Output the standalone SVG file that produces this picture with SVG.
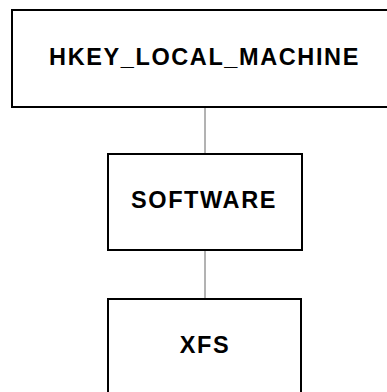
<svg xmlns="http://www.w3.org/2000/svg" width="387" height="392" viewBox="0 0 387 392">
<style>
.box{fill:#fff;stroke:#000;stroke-width:2}
.lbl{font-family:"Liberation Sans",Arial,sans-serif;font-weight:bold;font-size:23.5px;letter-spacing:1.6px;text-anchor:middle;fill:#000}
.conn{stroke:#666;stroke-width:1;fill:none}
</style>
<rect width="387" height="392" fill="#fff"/>
<g id="connectors">
<line class="conn" x1="205" y1="107" x2="205" y2="154"/>
<line class="conn" x1="205" y1="250" x2="205" y2="299"/>
</g>
<g id="hklm">
<rect class="box" x="12" y="10" width="386" height="97"/>
<text class="lbl" x="204.5" y="64.5">HKEY_LOCAL_MACHINE</text>
</g>
<g id="software">
<rect class="box" x="108" y="154" width="194" height="96"/>
<text class="lbl" x="204" y="208">SOFTWARE</text>
</g>
<g id="xfs">
<rect class="box" x="108" y="299" width="193" height="96"/>
<text class="lbl" x="205" y="353">XFS</text>
</g>
</svg>
